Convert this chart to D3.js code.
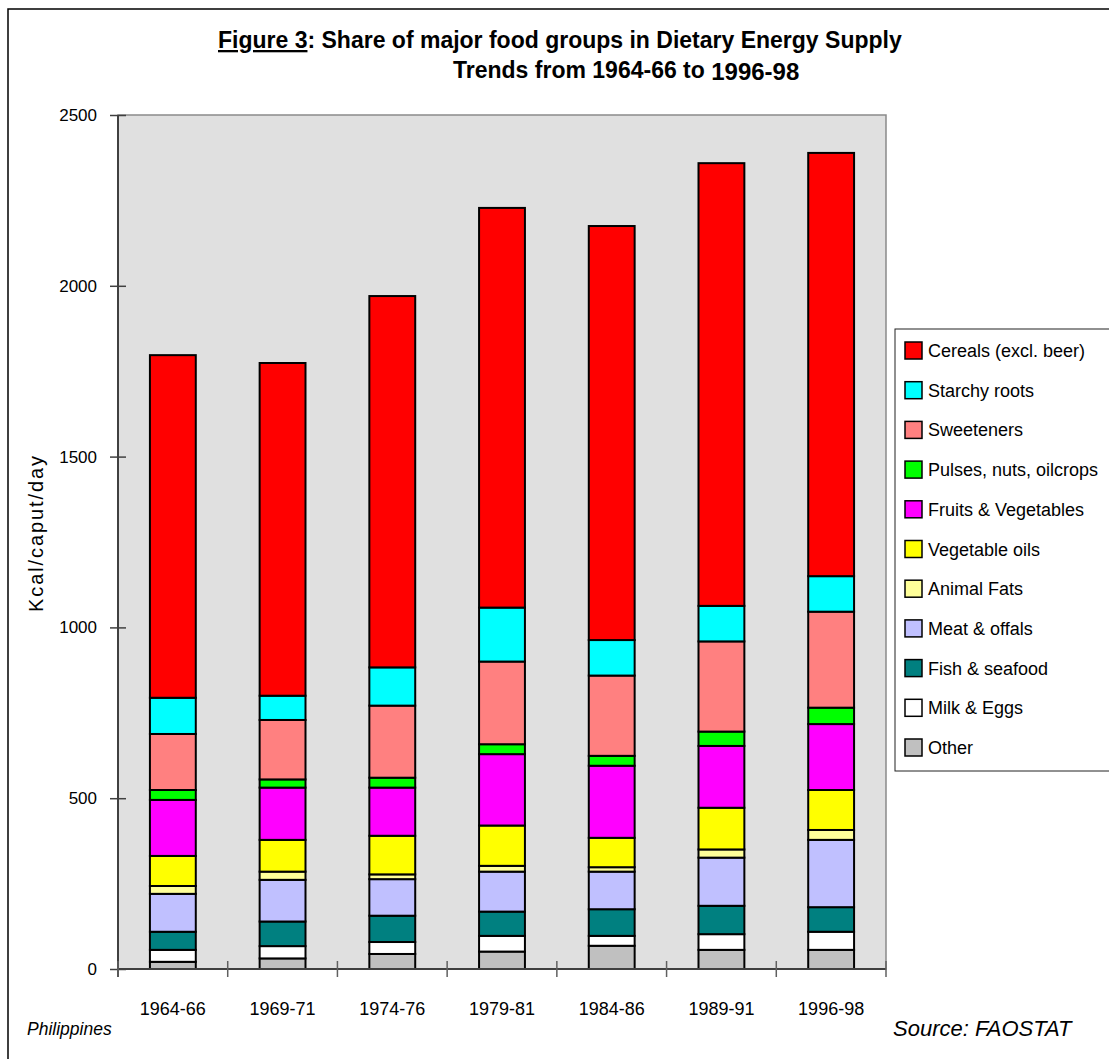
<!DOCTYPE html>
<html>
<head>
<meta charset="utf-8">
<script src="https://cdn.jsdelivr.net/npm/d3@7"></script>
<style>
  html, body { margin: 0; padding: 0; background: #fff; }
  svg { display: block; font-family: "Liberation Sans", Arial, sans-serif; }
</style>
</head>
<body>
<svg id="chart" width="1109" height="1059"></svg>
<script>
// ---- data ----
const categories = ["1964-66", "1969-71", "1974-76", "1979-81", "1984-86", "1989-91", "1996-98"];
const seriesNames = ["Other", "Milk & Eggs", "Fish & seafood", "Meat & offals", "Animal Fats",
  "Vegetable oils", "Fruits & Vegetables", "Pulses, nuts, oilcrops", "Sweeteners",
  "Starchy roots", "Cereals (excl. beer)"];
const other       = [21, 31, 44, 51, 68, 56, 56];
const milkEggs    = [35, 36, 35, 46, 29, 46, 53];
const fish        = [53, 72, 77, 71, 78, 83, 72];
const meat        = [111, 122, 107, 117, 110, 141, 197];
const animalFats  = [23, 24, 14, 17, 13, 24, 29];
const vegOils     = [88, 93, 113, 118, 86, 122, 117];
const fruitsVeg   = [164, 153, 141, 209, 211, 181, 193];
const pulses      = [29, 24, 29, 29, 29, 42, 48];
const sweeteners  = [164, 174, 211, 242, 235, 264, 281];
const starchy     = [106, 71, 112, 158, 104, 104, 104];
const cereals     = [1003, 974, 1087, 1170, 1212, 1296, 1239];
const yTicks      = [0, 500, 1000, 1500, 2000, 2500];
const colors = ["#C0C0C0", "#FFFFFF", "#008080", "#C0C0FF", "#FFFF99", "#FFFF00",
  "#FF00FF", "#00FF00", "#FF8080", "#00FFFF", "#FF0000"];

const seriesValues = [other, milkEggs, fish, meat, animalFats, vegOils, fruitsVeg,
  pulses, sweeteners, starchy, cereals];
const table = categories.map((c, i) => {
  const row = { cat: c };
  seriesNames.forEach((s, j) => row[s] = seriesValues[j][i]);
  return row;
});

// ---- layout ----
const svg = d3.select("#chart");
const plot = { left: 118, right: 886, top: 115, bottom: 969 };

// outer frame
svg.append("rect").attr("x", 8).attr("y", 9).attr("width", 1120).attr("height", 1070)
  .attr("fill", "none").attr("stroke", "#000").attr("stroke-width", 1.5);

const x = d3.scaleBand().domain(categories).range([plot.left, plot.right])
  .paddingInner(0.582).paddingOuter(0.291);
const xStep = d3.scaleBand().domain(categories).range([plot.left, plot.right]).padding(0);
const y = d3.scaleLinear().domain([0, 2500]).range([plot.bottom, plot.top]);

// plot background
svg.append("rect").attr("x", plot.left).attr("y", plot.top)
  .attr("width", plot.right - plot.left).attr("height", plot.bottom - plot.top)
  .attr("fill", "#E0E0E0").attr("stroke", "#8a8a8a").attr("stroke-width", 1.5);

// stacked bars
const stack = d3.stack().keys(seriesNames)(table);
svg.append("g").selectAll("g").data(stack).join("g")
  .attr("fill", (d, i) => colors[i])
  .selectAll("rect").data(d => d).join("rect")
  .attr("x", d => x(d.data.cat))
  .attr("width", x.bandwidth())
  .attr("y", d => y(d[1]))
  .attr("height", d => y(d[0]) - y(d[1]))
  .attr("stroke", "#000").attr("stroke-width", 2);

// y axis
const yAxis = svg.append("g").attr("transform", `translate(${plot.left},0)`)
  .call(d3.axisLeft(y).tickValues(yTicks).tickFormat(d3.format("d"))
    .tickSizeInner(8).tickSizeOuter(0).tickPadding(12));
yAxis.select(".domain").attr("stroke", "#404040").attr("stroke-width", 2)
  .attr("d", `M0,${plot.top}V${plot.bottom + 8}`);
yAxis.selectAll(".tick line").attr("stroke", "#404040").attr("stroke-width", 1.5)
  .attr("x1", 8).attr("x2", -8);
yAxis.selectAll(".tick text").attr("font-size", 17).attr("fill", "#000")
  .attr("font-family", "'Liberation Sans', Arial, sans-serif").attr("x", -21);

// x axis baseline and category separators
const xAxis = svg.append("g");
xAxis.append("line").attr("x1", plot.left).attr("x2", plot.right)
  .attr("y1", plot.bottom).attr("y2", plot.bottom).attr("stroke", "#404040").attr("stroke-width", 2);
const sepPos = categories.map(c => xStep(c)).concat([plot.right]);
xAxis.selectAll("line.sep").data(sepPos).join("line").attr("class", "sep")
  .attr("x1", d => d).attr("x2", d => d)
  .attr("y1", plot.bottom - 8).attr("y2", plot.bottom + 8)
  .attr("stroke", "#606060").attr("stroke-width", 1.5);
xAxis.selectAll("text").data(categories).join("text")
  .attr("x", d => x(d) + x.bandwidth() / 2).attr("y", 1015)
  .attr("text-anchor", "middle").attr("font-size", 18).text(d => d);

// y label
svg.append("text").attr("transform", "translate(43,534) rotate(-90)")
  .attr("text-anchor", "middle").attr("font-size", 20)
  .attr("textLength", 156).attr("lengthAdjust", "spacing").text("Kcal/caput/day");

// title
const t1 = svg.append("text").attr("x", 218).attr("y", 48).attr("font-size", 23).attr("font-weight", "bold");
t1.append("tspan").attr("text-decoration", "underline").text("Figure 3");
t1.append("tspan").text(":  Share of major food groups in Dietary Energy Supply");
const t2 = svg.append("text").attr("x", 453).attr("y", 78).attr("font-size", 23).attr("font-weight", "bold");
t2.append("tspan").text("Trends from 1964-66 to ");
t2.append("tspan").attr("font-size", 24).attr("dy", 2).text("1996-98");

// footer
svg.append("text").attr("x", 27).attr("y", 1035).attr("font-size", 17.5)
  .attr("font-style", "italic").text("Philippines");
svg.append("text").attr("x", 893).attr("y", 1036).attr("font-size", 22)
  .attr("font-style", "italic").text("Source: FAOSTAT");

// legend
const lg = svg.append("g");
lg.append("rect").attr("x", 895).attr("y", 329).attr("width", 260).attr("height", 442)
  .attr("fill", "#fff").attr("stroke", "#222").attr("stroke-width", 1);
const legendOrder = d3.range(seriesNames.length).reverse();
const rows = lg.selectAll("g.row").data(legendOrder).join("g").attr("class", "row")
  .attr("transform", (d, i) => `translate(905,${342 + i * 39.7})`);
rows.append("rect").attr("width", 17).attr("height", 17)
  .attr("fill", d => colors[d]).attr("stroke", "#000").attr("stroke-width", 1.5);
rows.append("text").attr("x", 23).attr("y", 15).attr("font-size", 18)
  .text(d => seriesNames[d]);
</script>
</body>
</html>
